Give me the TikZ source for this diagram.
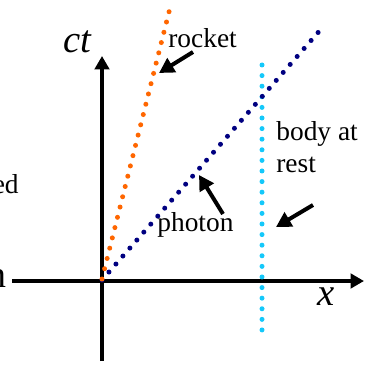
\documentclass[tikz,border=0pt]{standalone}
\usepackage{fontspec}
\setmainfont{Liberation Serif}
\usetikzlibrary{arrows.meta, positioning}
\definecolor{rocketorange}{RGB}{255,102,0}
\definecolor{photonblue}{RGB}{0,0,128}
\definecolor{restcyan}{RGB}{20,200,250}

\begin{document}
\begin{tikzpicture}[x=0.02cm, y=-0.02cm,
    axis/.style={line width=0.08cm, -{Triangle[length=0.27cm, width=0.29cm]}},
    pointer/.style={line width=0.08cm, -{Triangle[length=0.3cm, width=0.32cm]}},
    worldline/.style={line width=0.1cm, line cap=round, dash pattern=on 0pt off 0.212cm},
    lbl/.style={inner sep=0pt, anchor=base west, font=\fontsize{15.6}{18.5}\selectfont},
    big/.style={inner sep=0pt, anchor=base west, font=\fontsize{22}{24}\selectfont\itshape}]
    \useasboundingbox (0,0) rectangle (367,364);
    \clip (0,0) rectangle (367,364);

    % Trục tọa độ
    \coordinate (O) at (102,281);
    \coordinate (xstart) at (12,281);
    \coordinate (xend) at (364,281);
    \coordinate (ystart) at (102,361);
    \coordinate (yend) at (102,56);
    \draw[axis] (xstart) -- (xend);
    \draw[axis] (ystart) -- (yend);
    \node[big] (ct) at (63,53) {ct};
    \node[big] (x) at (317,305) {x};

    % Các đường vũ trụ (chấm)
    \draw[worldline, restcyan] (262,65) -- (262,331);
    \draw[worldline, photonblue] (102,280) -- (322,28);
    \draw[worldline, rocketorange] (102,279) -- (170,8);

    % Nhãn
    \node[lbl] (rocket) at (168,48) {rocket};
    \node[lbl] (photon) at (157,231) {photon};
    \node[lbl, align=left] (body) at (276,173) {body at\\rest};
    \node[lbl, anchor=base east] (leftA) at (19,193) {ed};
    \node[lbl, anchor=base east, font=\fontsize{21.6}{24}\selectfont] (leftB) at (7,287) {n};

    % Mũi tên chỉ
    \coordinate (rockettail) at (193,52);
    \coordinate (rockettip) at (159,73);
    \coordinate (photontail) at (223,214);
    \coordinate (photontip) at (199,175);
    \coordinate (bodytail) at (313,205);
    \coordinate (bodytip) at (276,227);
    \draw[pointer] (rockettail) -- (rockettip);
    \draw[pointer] (photontail) -- (photontip);
    \draw[pointer] (bodytail) -- (bodytip);
\end{tikzpicture}
\end{document}
